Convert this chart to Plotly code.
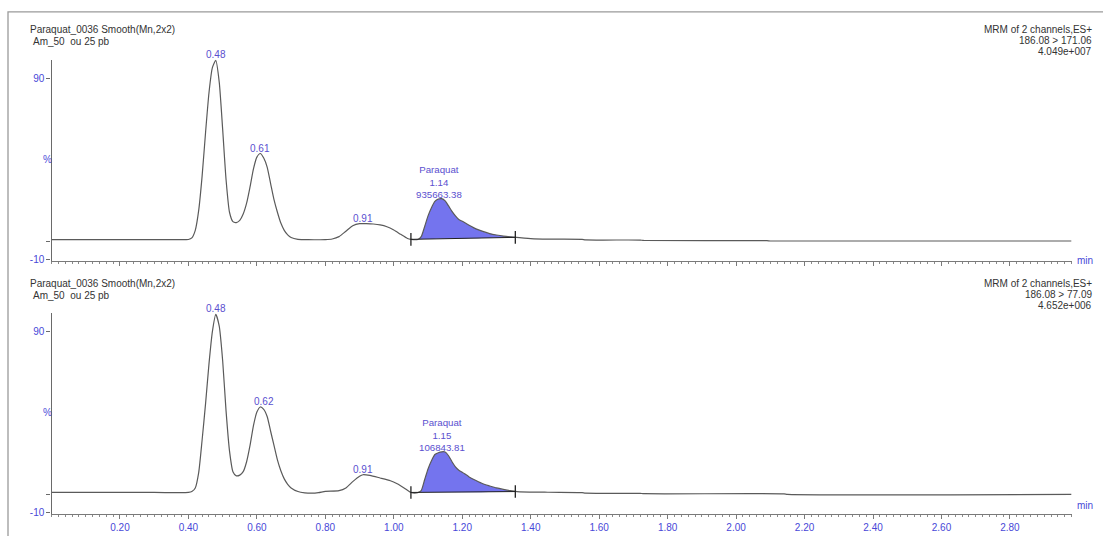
import numpy as np
import plotly.graph_objects as go

W, H = 1103, 536

# Retention time (min) and relative intensity (%) for each MRM channel
time_171 = [0.00, 0.30, 0.38, 0.40, 0.41, 0.42, 0.43, 0.44, 0.45, 0.46, 0.47, 0.48, 0.49, 0.50,
            0.51, 0.52, 0.53, 0.54, 0.55, 0.56, 0.57, 0.58, 0.59, 0.60, 0.61, 0.62, 0.63, 0.64,
            0.65, 0.66, 0.67, 0.68, 0.69, 0.70, 0.72, 0.75, 0.80, 0.82, 0.84, 0.86, 0.88, 0.90,
            0.92, 0.94, 0.96, 0.98, 1.00, 1.02, 1.04, 1.05, 1.07, 1.08, 1.09, 1.10, 1.11, 1.12,
            1.13, 1.14, 1.15, 1.16, 1.17, 1.18, 1.19, 1.20, 1.22, 1.24, 1.26, 1.28, 1.30, 1.32,
            1.35, 1.40, 1.45, 1.55, 1.56, 1.72, 1.73, 2.09, 2.10, 2.98]
intensity_171 = [0.9, 0.9, 0.9, 0.9, 1.8, 6, 17, 36, 60, 82, 96, 100, 88, 62,
                 34, 16, 10.8, 10.3, 11.5, 15, 21, 30, 40, 46.5, 48.5, 46, 41, 32,
                 23, 16, 10, 6, 3.5, 2, 1.0, 0.8, 0.9, 1.2, 2.5, 5.5, 8.5, 9.7,
                 9.7, 9.5, 9.0, 8.0, 6.2, 3.8, 1.5, 1.0, 0.9, 2.5, 8, 14, 18.5, 22,
                 23.3, 23.5, 22.3, 19.5, 16.5, 14, 12, 11, 8.8, 6.8, 5.4, 4.2, 3.4, 2.8,
                 2.2, 1.4, 1.1, 1.0, 0.7, 0.6, 0.4, 0.3, 0.1, 0.1]

time_77 = [0.00, 0.30, 0.40, 0.41, 0.42, 0.43, 0.44, 0.45, 0.46, 0.47, 0.48, 0.49, 0.50, 0.51,
           0.52, 0.53, 0.54, 0.55, 0.56, 0.57, 0.58, 0.59, 0.60, 0.61, 0.62, 0.63, 0.64, 0.65,
           0.66, 0.67, 0.68, 0.69, 0.70, 0.72, 0.74, 0.76, 0.78, 0.80, 0.84, 0.86, 0.88, 0.90,
           0.91, 0.93, 0.96, 0.99, 1.01, 1.03, 1.05, 1.07, 1.08, 1.09, 1.10, 1.11, 1.12, 1.13,
           1.14, 1.15, 1.16, 1.17, 1.18, 1.19, 1.20, 1.22, 1.24, 1.26, 1.28, 1.30, 1.32, 1.34,
           1.36, 1.45, 1.55, 1.56, 1.72, 1.73, 2.14, 2.15, 2.98]
intensity_77 = [1.0, 1.0, 1.0, 1.5, 3.5, 12, 30, 50, 72, 90, 99.5, 93, 74, 46,
                24, 12.5, 10.2, 10.6, 12.5, 18, 27, 38, 45.5, 48.3, 47, 43, 35, 27,
                19, 13, 8.5, 5.5, 3.5, 1.5, 0.8, 0.6, 0.9, 1.6, 2.0, 3.5, 7, 10,
                10.8, 10.4, 9.0, 7.5, 5.8, 3.5, 1.0, 0.9, 2, 8, 14, 18.5, 22, 23.0,
                23.5, 23.4, 21.3, 18, 15.2, 13.3, 12.2, 9.6, 7.6, 5.8, 4.6, 3.5, 2.7, 2.0,
                1.5, 1.1, 0.9, 0.6, 0.5, 0.3, 0.2, -0.1, -0.1]

# Integration window for the Paraquat peak: start/end time and baseline level
integ_171 = {"t": [1.05, 1.355], "y": [1.0, 2.1]}
integ_77 = {"t": [1.05, 1.355], "y": [1.0, 1.5]}

# Peak labels: (retention time, height, text)
peaks_171 = [(0.48, 100, "0.48"), (0.61, 48.5, "0.61"), (0.91, 9.7, "0.91")]
peaks_77 = [(0.48, 99.5, "0.48"), (0.62, 48.3, "0.62"), (0.91, 10.8, "0.91")]
paraquat_171 = (1.14, 23.5, "Paraquat", "1.14", "935663.38")
paraquat_77 = (1.15, 23.5, "Paraquat", "1.15", "106843.81")

header_left = ["Paraquat_0036 Smooth(Mn,2x2)", "Am_50  ou 25 pb"]
header_right_171 = ["MRM of 2 channels,ES+", "186.08 > 171.06", "4.049e+007"]
header_right_77 = ["MRM of 2 channels,ES+", "186.08 > 77.09", "4.652e+006"]

x_ticks = [0.20, 0.40, 0.60, 0.80, 1.00, 1.20, 1.40, 1.60, 1.80, 2.00, 2.20, 2.40, 2.60, 2.80]

FONT = "Liberation Sans, Arial, sans-serif"
BLUE = "#4848d8"
LABEL_BLUE = "#5a4fcf"
TEXT = "#333333"
LINE = "#5a5a5a"
FILL = "#7474ee"

fig = go.Figure()

panels = [
    ("x", "y", time_171, intensity_171, integ_171, peaks_171, paraquat_171),
    ("x2", "y2", time_77, intensity_77, integ_77, peaks_77, paraquat_77),
]

annotations = []
for xa, ya, t, v, integ, peaks, pq in panels:
    t_arr = np.array(t)
    v_arr = np.array(v)
    # shaded integrated area: curve inside the window, closed along the integration baseline
    m = (t_arr >= integ["t"][0]) & (t_arr <= integ["t"][1])
    poly_t = [integ["t"][0]] + list(t_arr[m]) + [integ["t"][1], integ["t"][1], integ["t"][0]]
    poly_v = [integ["y"][0]] + list(v_arr[m]) + [np.interp(integ["t"][1], t_arr, v_arr),
                                                  integ["y"][1], integ["y"][0]]
    fig.add_trace(go.Scatter(x=poly_t, y=poly_v, xaxis=xa, yaxis=ya, mode="lines",
                             line=dict(width=0, shape="spline", smoothing=0.6),
                             fill="toself", fillcolor=FILL, hoverinfo="skip", showlegend=False))
    # chromatogram trace
    fig.add_trace(go.Scatter(x=t, y=v, xaxis=xa, yaxis=ya, mode="lines",
                             line=dict(color=LINE, width=1.2, shape="spline", smoothing=0.6),
                             showlegend=False))
    # integration baseline and start/end markers
    fig.add_trace(go.Scatter(x=integ["t"], y=integ["y"], xaxis=xa, yaxis=ya, mode="lines+markers",
                             line=dict(color="#222222", width=1),
                             marker=dict(symbol="line-ns-open", size=9,
                                         line=dict(color="#222222", width=1.3)),
                             showlegend=False))
    for pt, pv, txt in peaks:
        annotations.append(dict(x=pt, y=pv, xref=xa, yref=ya, text=txt, showarrow=False,
                                yanchor="bottom", yshift=-2,
                                font=dict(family=FONT, size=10, color=LABEL_BLUE)))
    annotations.append(dict(x=pq[0], y=pq[1], xref=xa, yref=ya,
                            text="<br>".join(pq[2:]), showarrow=False,
                            yanchor="bottom", xshift=-3, yshift=-3,
                            font=dict(family=FONT, size=9.7, color=LABEL_BLUE)))

# "%" and "min" axis captions
for ya in ["y", "y2"]:
    annotations.append(dict(x=41 / W, y=45, xref="paper", yref=ya, text="%", showarrow=False,
                            font=dict(family=FONT, size=10, color=BLUE)))
for y_px in [262, 517]:
    annotations.append(dict(x=1075 / W, y=1 - y_px / H, xref="paper", yref="paper", text="min",
                            xanchor="left", showarrow=False,
                            font=dict(family=FONT, size=10, color=BLUE)))

# header texts
for top in [30, 286]:
    annotations.append(dict(x=28 / W, y=1 - top / H, xref="paper", yref="paper",
                            text=header_left[0], xanchor="left", yanchor="middle",
                            showarrow=False, font=dict(family=FONT, size=10, color=TEXT)))
    annotations.append(dict(x=31 / W, y=1 - (top + 11.5) / H, xref="paper", yref="paper",
                            text=header_left[1], xanchor="left", yanchor="middle",
                            showarrow=False, font=dict(family=FONT, size=10, color=TEXT)))
for top, lines in [(30, header_right_171), (286, header_right_77)]:
    for i, line in enumerate(lines):
        annotations.append(dict(x=1094 / W, y=1 - (top + 11 * i) / H, xref="paper", yref="paper",
                                text=line, xanchor="right", yanchor="middle",
                                showarrow=False, font=dict(family=FONT, size=10, color=TEXT)))

x_domain = [51.5 / W, (51.5 + 2.98 * 342.3) / W]
axis_common = dict(range=[0, 2.98], domain=x_domain, showgrid=False, zeroline=False,
                   showline=True, linecolor="#7a7a7a", linewidth=1.2,
                   ticks="outside", ticklen=4, tickcolor="#7a7a7a",
                   tickvals=x_ticks, ticktext=[f"{v:.2f}" for v in x_ticks],
                   tickfont=dict(family=FONT, size=10, color=BLUE),
                   minor=dict(dtick=0.02, tick0=0, ticks="outside", ticklen=2,
                              tickcolor="#8a8a8a", showgrid=False))
y_common = dict(range=[-11, 100.5], showgrid=False, zeroline=False, showline=True,
                linecolor="#6a6a6a", linewidth=1.4, ticks="outside", ticklen=4,
                tickcolor="#6a6a6a", tickvals=[-10, 0, 90], ticktext=["-10", "", "90"],
                tickfont=dict(family=FONT, size=10, color=BLUE))

fig.update_layout(
    width=W, height=H,
    margin=dict(l=0, r=0, t=0, b=0),
    paper_bgcolor="white", plot_bgcolor="white",
    showlegend=False,
    xaxis=dict(**axis_common, anchor="y", showticklabels=False),
    xaxis2=dict(**axis_common, anchor="y2", showticklabels=True),
    yaxis=dict(**y_common, domain=[1 - 263 / H, 1 - 60 / H], anchor="x"),
    yaxis2=dict(**y_common, domain=[1 - 518 / H, 1 - 315 / H], anchor="x2"),
    annotations=annotations,
    shapes=[dict(type="rect", xref="paper", yref="paper",
                 x0=8 / W, x1=1.02, y0=-0.02, y1=1 - 12 / H,
                 line=dict(color="#9a9a9a", width=1.3), fillcolor="rgba(0,0,0,0)")],
)

fig.write_html("out.html")
